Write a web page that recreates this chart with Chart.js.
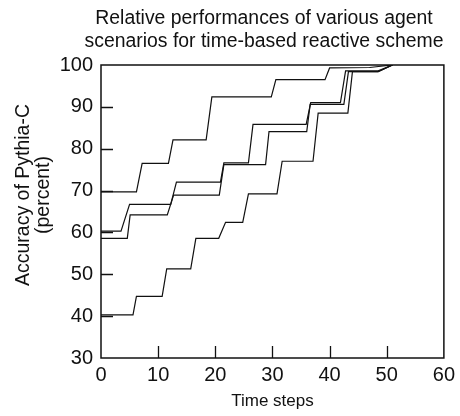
<!DOCTYPE html>
<html>
<head>
<meta charset="utf-8">
<script src="https://cdn.jsdelivr.net/npm/chart.js@4.4.1/dist/chart.umd.min.js"></script>
<style>
html, body { margin: 0; padding: 0; background: #fff; }
#wrap { width: 460px; height: 416px; }
</style>
</head>
<body>
<div id="wrap"><canvas id="chart"></canvas></div>
<script>
// tick labels
const timeTicks = [0, 10, 20, 30, 40, 50, 60];
const accuracyTicks = [30, 40, 50, 60, 70, 80, 90, 100];

const titleLines = ['Relative performances of various agent', 'scenarios for time-based reactive scheme'];
const yTitleLines = ['Accuracy of Pythia-C', '(percent)'];
const xTitle = 'Time steps';

// corner points of each stepped curve
const timeA = [0, 6.2, 7.2, 11.8, 12.6, 18.4, 19.4, 29.8, 30.6, 39.2, 40.0, 47.0, 51.0];
const accA  = [69.7, 69.7, 76.5, 76.5, 82.1, 82.1, 92.4, 92.4, 96.5, 96.5, 99.3, 99.4, 100];

const timeB = [0, 3.5, 5.0, 12.2, 13.2, 20.9, 21.5, 25.8, 26.6, 35.9, 36.7, 41.9, 42.8, 48.5, 51.0];
const accB  = [60.3, 60.3, 66.7, 66.7, 72.0, 72.0, 76.6, 76.6, 85.8, 85.8, 91.0, 91.0, 98.6, 98.6, 100];

const timeC = [0, 4.6, 5.1, 11.6, 12.7, 20.7, 21.5, 28.8, 29.4, 36.0, 36.6, 42.5, 43.3, 48.5, 51.0];
const accC  = [58.6, 58.6, 64.2, 64.2, 68.9, 68.9, 76.2, 76.2, 84.1, 84.1, 90.6, 90.6, 98.4, 98.4, 100];

const timeD = [0, 5.6, 6.2, 10.7, 11.5, 15.7, 16.6, 20.6, 21.8, 24.8, 25.8, 30.8, 31.7, 37.1, 38.0, 43.2, 44.0, 48.5, 51.0];
const accD  = [40.3, 40.3, 44.7, 44.7, 51.3, 51.3, 58.6, 58.6, 62.4, 62.4, 69.2, 69.2, 77.0, 77.0, 88.5, 88.5, 98.4, 98.4, 100];

const toPoints = (xs, ys) => xs.map((x, i) => ({x: x, y: ys[i]}));

const ink = '#111';
const fontFamily = '"Liberation Sans", Arial, sans-serif';

// box frame, inward tick marks, main title and y title
const framePlugin = {
    id: 'framePlugin',
    afterDraw(chart) {
        const {ctx, chartArea: {left, right, top, bottom}, scales: {x, y}} = chart;
        ctx.save();
        ctx.strokeStyle = ink;
        ctx.lineWidth = 1.5;
        ctx.strokeRect(left, top, right - left, bottom - top);

        ctx.lineWidth = 1.3;
        ctx.beginPath();
        timeTicks.slice(1, -1).forEach(v => {
            const px = Math.round(x.getPixelForValue(v)) + 0.5;
            ctx.moveTo(px, bottom);
            ctx.lineTo(px, bottom - 12);
        });
        accuracyTicks.slice(1, -1).forEach(v => {
            const py = Math.round(y.getPixelForValue(v)) + 0.5;
            ctx.moveTo(left, py);
            ctx.lineTo(left + 12, py);
        });
        ctx.stroke();

        ctx.fillStyle = ink;
        ctx.textAlign = 'center';
        ctx.textBaseline = 'middle';
        ctx.font = '19.4px ' + fontFamily;
        ctx.fillText(titleLines[0], 264, 19);
        ctx.fillText(titleLines[1], 264, 42);

        ctx.font = '19.5px ' + fontFamily;
        ctx.translate(24, 195);
        ctx.rotate(-Math.PI / 2);
        ctx.fillText(yTitleLines[0], 0, 0);
        ctx.fillText(yTitleLines[1], 0, 20);
        ctx.restore();
    }
};

const series = [
    {label: 'A', data: toPoints(timeA, accA)},
    {label: 'B', data: toPoints(timeB, accB)},
    {label: 'C', data: toPoints(timeC, accC)},
    {label: 'D', data: toPoints(timeD, accD)}
];

new Chart(document.getElementById('chart'), {
    type: 'line',
    data: {
        datasets: series.map(s => ({
            label: s.label,
            data: s.data,
            borderColor: ink,
            borderWidth: 1.2,
            pointRadius: 0,
            tension: 0,
            fill: false
        }))
    },
    options: {
        responsive: true,
        maintainAspectRatio: false,
        animation: false,
        layout: {
            padding: {top: 65, right: 13, left: 0, bottom: 0}
        },
        plugins: {
            legend: {display: false},
            title: {display: false},
            tooltip: {enabled: false}
        },
        scales: {
            x: {
                type: 'linear',
                min: 0,
                max: 60,
                grid: {display: false, drawTicks: false},
                border: {display: false},
                afterBuildTicks: s => { s.ticks = timeTicks.map(v => ({value: v})); },
                ticks: {
                    color: ink,
                    padding: 5,
                    maxRotation: 0,
                    font: {family: fontFamily, size: 20}
                },
                title: {
                    display: true,
                    text: xTitle,
                    color: ink,
                    padding: {top: 0, bottom: 4},
                    font: {family: fontFamily, size: 17}
                },
                afterFit: s => { s.height = 58; }
            },
            y: {
                type: 'linear',
                min: 30,
                max: 100,
                grid: {display: false, drawTicks: false},
                border: {display: false},
                afterBuildTicks: s => { s.ticks = accuracyTicks.map(v => ({value: v})); },
                ticks: {
                    color: ink,
                    padding: 8,
                    font: {family: fontFamily, size: 20}
                },
                afterFit: s => { s.width = 101; }
            }
        }
    },
    plugins: [framePlugin]
});
</script>
</body>
</html>
